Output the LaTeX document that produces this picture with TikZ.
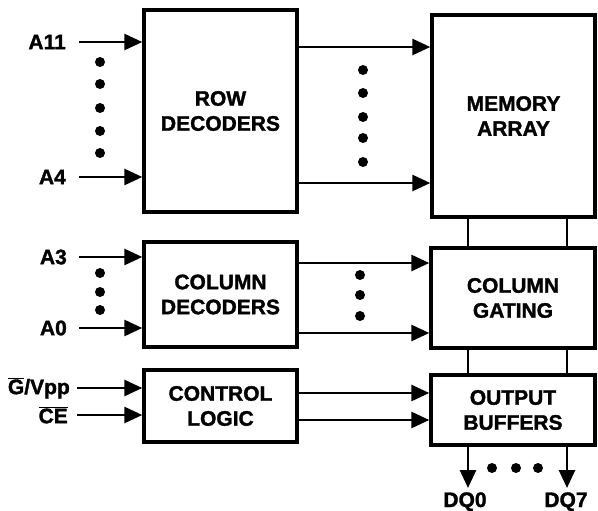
\documentclass[tikz,border=0pt]{standalone}
\usepackage{fontspec}
\setmainfont{Liberation Sans}[BoldFeatures={FakeBold=1.5}]
\usetikzlibrary{arrows.meta}
\newcommand\myovl[1]{$\overline{\hbox{#1}}$}
\begin{document}
\begin{tikzpicture}[x=1pt,y=-1pt,
  blk/.style={draw,line width=3.4pt,rectangle,inner sep=0pt,align=center,
    font=\fontsize{21}{25}\selectfont\bfseries},
  arr/.style={line width=2.8pt,-{Triangle[length=18pt,width=16pt]}},
  wire/.style={line width=2.8pt},
  lbl/.style={inner sep=0pt,font=\fontsize{21}{25}\selectfont\bfseries},
  dot/.style={circle,fill,inner sep=0pt,minimum size=10pt}]
\useasboundingbox (0,0) rectangle (598,511);
% boxes
\node[blk,minimum width=153pt,minimum height=202pt] (row) at (220.5,111) {ROW\\DECODERS};
\node[blk,minimum width=163pt,minimum height=202pt] (mem) at (513.5,116) {MEMORY\\ARRAY};
\node[blk,minimum width=153pt,minimum height=105pt] (cold) at (220.5,294.5) {COLUMN\\DECODERS};
\node[blk,minimum width=164pt,minimum height=100pt] (colg) at (513,298) {COLUMN\\GATING};
\node[blk,minimum width=153pt,minimum height=72pt] (ctrl) at (220.5,406) {CONTROL\\LOGIC};
\node[blk,minimum width=164pt,minimum height=70pt] (outb) at (513,410) {OUTPUT\\BUFFERS};
% input labels
\node[lbl,anchor=east] (lA11) at (66,42) {A11};
\node[lbl,anchor=east] (lA4) at (66,177) {A4};
\node[lbl,anchor=east] (lA3) at (67,257) {A3};
\node[lbl,anchor=east] (lA0) at (67,328) {A0};
\node[lbl,anchor=east] (lG) at (70,388) {\myovl{G}/Vpp};
\node[lbl,anchor=east] (lCE) at (68,415) {\myovl{CE}};
\coordinate (iA11) at (79,42);
\coordinate (iA4) at (79,177);
\coordinate (iA3) at (79,257);
\coordinate (iA0) at (79,328);
\coordinate (iG) at (77,388);
\coordinate (iCE) at (77,415);
\foreach \c/\b in {iA11/row,iA4/row,iA3/cold,iA0/cold,iG/ctrl,iCE/ctrl}
  \draw[arr] (\c) -- (\c -| \b.west);
% row -> memory
\draw[arr] (row.east |- 0,47) -- (mem.west |- 0,47);
\draw[arr] (row.east |- 0,183) -- (mem.west |- 0,183);
% column decoders -> gating
\draw[arr] (cold.east |- 0,263) -- (colg.west |- 0,263);
\draw[arr] (cold.east |- 0,333) -- (colg.west |- 0,333);
% control -> output
\draw[arr] (ctrl.east |- 0,393) -- (outb.west |- 0,393);
\draw[arr] (ctrl.east |- 0,420) -- (outb.west |- 0,420);
% vertical links
\foreach \x in {468,567} {
  \draw[wire] (mem.south -| \x,0) -- (colg.north -| \x,0);
  \draw[wire] (colg.south -| \x,0) -- (outb.north -| \x,0);
}
% outputs
\coordinate (o0) at (468,488);
\coordinate (o7) at (567,488);
\draw[arr] (outb.south -| o0) -- (o0);
\draw[arr] (outb.south -| o7) -- (o7);
\node[lbl,anchor=base] (dq0) at (465,507) {DQ0};
\node[lbl,anchor=base] (dq7) at (566,507) {DQ7};
% dots
\foreach \y in {62,84,108,131,153} \node[dot] at (100,\y) {};
\foreach \y in {70,93,117,138,162} \node[dot] at (363,\y) {};
\foreach \y in {273,292,310} \node[dot] at (100,\y) {};
\foreach \y in {275,295,316} \node[dot] at (360,\y) {};
\foreach \x in {492,516,538} \node[dot] at (\x,468) {};
\end{tikzpicture}
\end{document}
